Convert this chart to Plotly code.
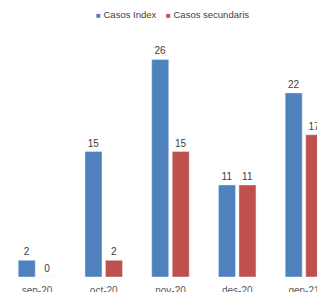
import plotly.graph_objects as go

categories = ["sep-20", "oct-20", "nov-20", "des-20", "gen-21"]
casos_index = [2, 15, 26, 11, 22]
casos_secundaris = [0, 2, 15, 11, 17]
series_names = ["Casos Index", "Casos secundaris"]

blue = "#4F81BD"
red = "#C0504D"

# the page body has an 8px margin; size the figure to the visible area
OFF = 8
FW, FH = 325 - OFF, 292 - OFF
T, B = 18, 15

fig = go.Figure()
fig.add_trace(go.Bar(name=series_names[0], x=categories, y=casos_index, marker_color=blue,
                     text=casos_index, textposition="outside", cliponaxis=False,
                     textfont=dict(size=10, color="#404040")))
fig.add_trace(go.Bar(name=series_names[1], x=categories, y=casos_secundaris, marker_color=red,
                     text=casos_secundaris, textposition="outside", cliponaxis=False,
                     textfont=dict(size=10, color="#404040")))

plot_h = FH - T - B
legend_items = [(series_names[0], blue, 94), (series_names[1], red, 164)]
for name, col, xw in legend_items:
    fig.add_annotation(
        x=(xw - OFF) / FW, y=(FH - B - (14 - OFF)) / plot_h,
        xref="paper", yref="paper", xanchor="left", yanchor="middle",
        text=f"<span style='color:{col};font-size:8px'>■</span> {name}",
        showarrow=False, font=dict(size=9.5, color="#404040"))

fig.update_layout(
    width=FW, height=FH,
    margin=dict(l=0, r=0, t=T, b=B, autoexpand=False),
    paper_bgcolor="white", plot_bgcolor="white",
    barmode="group", bargap=0.386, bargroupgap=0.17,
    font=dict(family="Liberation Sans, Arial, sans-serif", size=10, color="#595959"),
    showlegend=False,
    xaxis=dict(range=[-0.434, 4.315], showline=False, showgrid=False, ticks="",
               automargin=False, ticklabelstandoff=6,
               tickfont=dict(size=10, color="#595959")),
    yaxis=dict(range=[0, 30], visible=False, showgrid=False, zeroline=False, automargin=False),
)
fig.write_html("out.html")
